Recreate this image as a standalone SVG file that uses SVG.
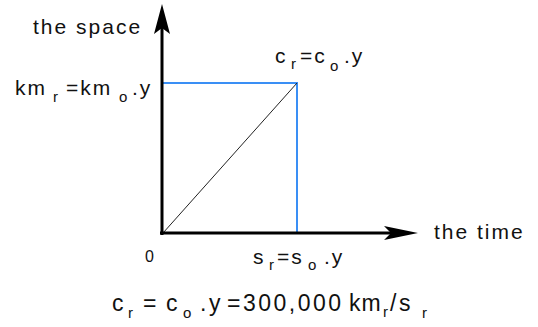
<svg xmlns="http://www.w3.org/2000/svg" width="538" height="327" viewBox="0 0 538 327">
<style>
  text { font-family: "Liberation Sans", Arial, sans-serif; fill: #111; }
  .m { font-size: 21px; letter-spacing: 2px; }
  .f { font-size: 23px; letter-spacing: 2.5px; }
  .s { font-size: 15px; }
  .axis { stroke: #000; stroke-width: 3; fill: none; }
  .blue { stroke: #3a8ff5; stroke-width: 2; fill: none; }
  .diag { stroke: #222; stroke-width: 1; fill: none; }
</style>
<rect width="538" height="327" fill="#fff"/>
<g id="connectors">
  <line class="blue" x1="163" y1="83" x2="297" y2="83"/>
  <line class="blue" x1="297" y1="82" x2="297" y2="233"/>
  <line class="diag" x1="163" y1="233" x2="297" y2="83"/>
  <line class="axis" x1="162" y1="235" x2="162" y2="20"/>
  <line class="axis" x1="160" y1="233" x2="405" y2="233"/>
  <polygon points="162,4 154,34 162,28 170,34" fill="#000"/>
  <polygon points="418,233 384,226 391,233 384,240" fill="#000"/>
</g>
<g id="label-space">
  <text class="m" x="33" y="34">the space</text>
</g>
<g id="label-time">
  <text class="m" x="434" y="239">the time</text>
</g>
<g id="label-km">
  <text class="m" x="15" y="95">km</text>
  <text class="s" x="53" y="102">r</text>
  <text class="m" x="66" y="95">=km</text>
  <text class="s" x="119" y="102">o</text>
  <text class="m" x="132" y="95">.y</text>
</g>
<g id="label-c">
  <text class="m" x="275" y="63">c</text>
  <text class="s" x="291" y="69">r</text>
  <text class="m" x="300" y="63">=c</text>
  <text class="s" x="330" y="71">o</text>
  <text class="m" x="344" y="63">.y</text>
</g>
<g id="label-origin">
  <text x="145" y="262" style="font-size:16px">0</text>
</g>
<g id="label-s">
  <text class="m" x="253" y="264">s</text>
  <text class="s" x="269" y="270">r</text>
  <text class="m" x="277" y="264">=s</text>
  <text class="s" x="308" y="270">o</text>
  <text class="m" x="324" y="264">.y</text>
</g>
<g id="label-formula">
  <text class="f" x="112" y="311">c</text>
  <text class="s" x="128" y="318">r</text>
  <text class="f" x="143" y="311">=</text>
  <text class="f" x="166" y="311">c</text>
  <text class="s" x="183" y="318">o</text>
  <text class="f" x="200" y="311">.y</text>
  <text class="f" x="227" y="311">=300,000</text>
  <text class="f" x="349" y="311" style="letter-spacing:1px">km</text>
  <text class="s" x="383" y="317">r</text>
  <text class="f" x="390" y="311">/s</text>
  <text class="s" x="422" y="318">r</text>
</g>
</svg>
